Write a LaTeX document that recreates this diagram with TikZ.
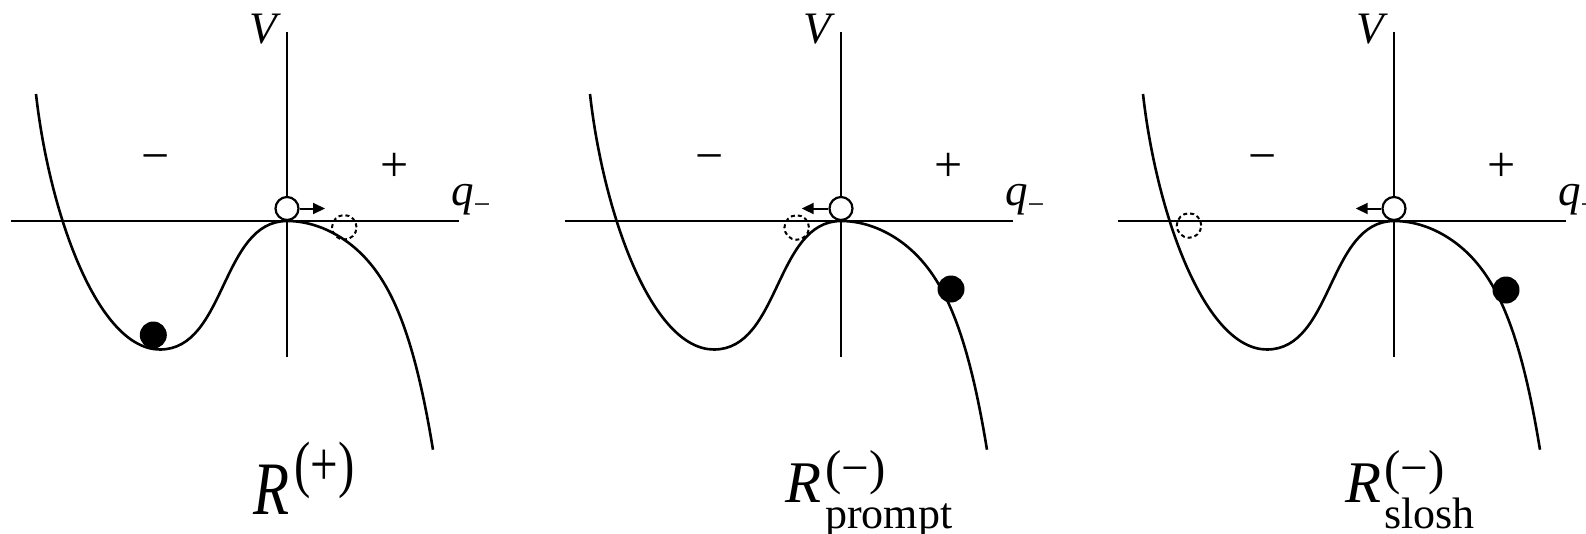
\documentclass[tikz,border=0pt]{standalone}
\usepackage{fontspec}
\setmainfont{Liberation Serif}
\usetikzlibrary{arrows.meta}
\newcommand\bigfont{\fontsize{59}{59}\selectfont}
\newcommand\supfont{\fontsize{49}{49}\selectfont}
\newcommand\subfont{\fontsize{44}{44}\selectfont}
\begin{document}
\begin{tikzpicture}[x=1pt,y=-1pt]
\tikzset{
  axis/.style={line width=2pt},
  curve/.style={line width=2.6pt, line join=round},
  ball/.style={circle, fill=black, minimum size=27pt, inner sep=0pt},
  open/.style={circle, draw, fill=white, line width=2.2pt, minimum size=23pt, inner sep=0pt},
  ghost/.style={circle, draw, dash pattern=on 4pt off 3pt, line width=2pt, minimum size=24.5pt, inner sep=0pt},
  push/.style={line width=2pt, -{Triangle[length=12pt,width=11pt]}},
  sign/.style={font=\fontsize{50}{50}\selectfont, inner sep=0pt},
  axlab/.style={font=\fontsize{45}{45}\selectfont\itshape, inner sep=0pt},
  lab/.style={anchor=base west, inner sep=0pt}
}
\useasboundingbox (0,0) rectangle (1586,533);
\foreach \i/\ax in {1/287,2/841,3/1394}{
  \begin{scope}[shift={(\ax,221)}]
    \draw[axis] (-276,0) -- (172,0);
    \draw[axis] (0,-189) -- (0,136);
    \draw[curve] (-251,-127) .. controls (-238,-10) and (-190,128.5) .. (-127,128.5)
      .. controls (-61,128.5) and (-66,0) .. (0,0)
      -- plot[domain=0:1.46, samples=80, variable=\w] ({100*\w},{56*\w*\w+11.3*\w^6});
    \node[axlab, anchor=base] (V\i) at (-24,-178) {V};
    \node[axlab, anchor=base west] (q\i) at (164,-16) {q\raisebox{-9pt}{\fontsize{30}{30}\selectfont\upshape −}};
    \node[sign] (minus\i) at (-131.5,-57) {−};
    \node[sign] (plus\i) at (107.5,-54) {+};
    \node[open] (top\i) at (0,-12.5) {};
  \end{scope}
}
% panel 1
\node[ball] (ball1) at (153.3,335) {};
\node[ghost] (ghost1) at (344.3,227.3) {};
\coordinate (tip1) at (325,208.5);
\draw[push] (top1.east) -- (tip1);
% panel 2
\node[ball] (ball2) at (951,289) {};
\node[ghost] (ghost2) at (796.7,227.5) {};
\coordinate (tip2) at (801.7,208.5);
\draw[push] (top2.west) -- (tip2);
% panel 3
\node[ball] (ball3) at (1506,290) {};
\node[ghost] (ghost3) at (1189,225.5) {};
\coordinate (tip3) at (1355.7,208.5);
\draw[push] (top3.west) -- (tip3);
% labels
\node[lab] (L1) at (253,514) {\scalebox{1}[1.28]{\bigfont\textit{R}\kern5pt\raisebox{22pt}{\supfont(+)}}};
\node[lab] (L2) at (785,502) {\bigfont\textit{R}\kern4pt\rlap{\raisebox{18pt}{\supfont(−)}}\raisebox{-26pt}{\subfont prompt}};
\node[lab] (L3) at (1345,502) {\bigfont\textit{R}\kern3pt\rlap{\raisebox{18pt}{\supfont(−)}}\raisebox{-26pt}{\subfont slosh}};
\end{tikzpicture}
\end{document}
